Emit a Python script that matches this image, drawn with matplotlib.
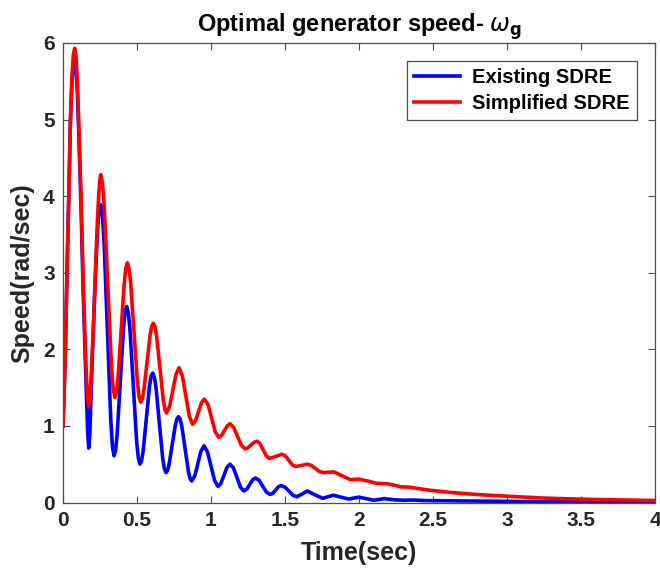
import matplotlib
matplotlib.use("Agg")
import matplotlib.pyplot as plt

# values (time in sec, speed in rad/sec)
t_existing = [0.000, 0.008, 0.016, 0.027, 0.039, 0.050, 0.060, 0.070, 0.079, 0.088,
              0.097, 0.106, 0.122, 0.135, 0.151, 0.160, 0.167, 0.174, 0.181, 0.189,
              0.199, 0.219, 0.233, 0.241, 0.248, 0.255, 0.266, 0.2775, 0.300, 0.3225,
              0.334, 0.345, 0.3556, 0.366, 0.3875, 0.409, 0.4194, 0.430, 0.441, 0.4525,
              0.475, 0.4975, 0.509, 0.520, 0.531, 0.5415, 0.563, 0.5845, 0.595, 0.606,
              0.617, 0.6285, 0.651, 0.6735, 0.685, 0.696, 0.7065, 0.717, 0.738, 0.759,
              0.7695, 0.780, 0.791, 0.8025, 0.825, 0.8475, 0.859, 0.870, 0.891, 0.9115,
              0.932, 0.953, 0.9765, 1.000, 1.0235, 1.047, 1.067, 1.0875, 1.108, 1.128,
              1.152, 1.1755, 1.199, 1.223, 1.242, 1.2615, 1.281, 1.300, 1.325, 1.350,
              1.375, 1.400, 1.418, 1.4365, 1.455, 1.473, 1.500, 1.5265, 1.553, 1.580,
              1.615, 1.650, 1.7025, 1.755, 1.790, 1.826, 1.878, 1.930, 1.965, 2.000,
              2.050, 2.100, 2.135, 2.170, 2.240, 2.300, 2.370, 2.450, 2.600, 3.000,
              3.500, 4.000]
y_existing = [1.00, 1.45, 2.00, 3.00, 4.00, 4.95, 5.45, 5.73, 5.80, 5.70,
              5.35, 4.85, 3.85, 2.85, 1.85, 1.30, 0.90, 0.71, 0.88, 1.35,
              1.95, 2.95, 3.55, 3.75, 3.86, 3.89, 3.77, 3.41, 2.25, 1.09,
              0.73, 0.61, 0.68, 0.895, 1.585, 2.275, 2.49, 2.56, 2.48, 2.26,
              1.53, 0.80, 0.58, 0.50, 0.545, 0.67, 1.095, 1.52, 1.645, 1.69,
              1.64, 1.50, 1.04, 0.58, 0.44, 0.39, 0.42, 0.50, 0.755, 1.01,
              1.09, 1.12, 1.09, 1.00, 0.70, 0.40, 0.31, 0.28, 0.35, 0.51,
              0.67, 0.74, 0.66, 0.475, 0.29, 0.21, 0.25, 0.355, 0.46, 0.50,
              0.45, 0.325, 0.20, 0.15, 0.175, 0.235, 0.295, 0.32, 0.29, 0.21,
              0.135, 0.105, 0.12, 0.16, 0.205, 0.22, 0.20, 0.15, 0.095, 0.075,
              0.11, 0.15, 0.10, 0.055, 0.075, 0.095, 0.07, 0.045, 0.058, 0.07,
              0.05, 0.03, 0.04, 0.05, 0.035, 0.03, 0.032, 0.025, 0.022, 0.015,
              0.010, 0.008]

t_simplified = [0.000, 0.008, 0.016, 0.027, 0.039, 0.050, 0.060, 0.070, 0.079, 0.088,
                0.097, 0.106, 0.122, 0.135, 0.151, 0.160, 0.167, 0.174, 0.181, 0.189,
                0.199, 0.219, 0.233, 0.241, 0.248, 0.255, 0.267, 0.279, 0.303, 0.327,
                0.339, 0.351, 0.3615, 0.372, 0.393, 0.414, 0.4245, 0.435, 0.446, 0.4575,
                0.480, 0.5025, 0.514, 0.525, 0.536, 0.546, 0.5675, 0.589, 0.599, 0.610,
                0.621, 0.6325, 0.655, 0.6775, 0.689, 0.700, 0.721, 0.742, 0.763, 0.784,
                0.807, 0.830, 0.853, 0.876, 0.896, 0.9155, 0.935, 0.955, 0.980, 1.0045,
                1.029, 1.054, 1.0725, 1.091, 1.110, 1.128, 1.1535, 1.179, 1.2045, 1.230,
                1.250, 1.270, 1.290, 1.310, 1.331, 1.352, 1.373, 1.394, 1.436, 1.478,
                1.502, 1.526, 1.550, 1.574, 1.612, 1.650, 1.677, 1.705, 1.732, 1.760,
                1.795, 1.830, 1.885, 1.940, 2.000, 2.060, 2.120, 2.190, 2.240, 2.280,
                2.345, 2.410, 2.480, 2.600, 2.700, 2.850, 3.000, 3.270, 3.580, 4.000]
y_simplified = [1.00, 1.45, 2.00, 3.00, 4.00, 5.00, 5.55, 5.85, 5.93, 5.83,
                5.50, 5.00, 4.00, 3.00, 2.00, 1.58, 1.35, 1.26, 1.33, 1.60,
                2.00, 3.00, 3.70, 4.00, 4.20, 4.28, 4.17, 3.86, 2.83, 1.79,
                1.48, 1.37, 1.44, 1.63, 2.25, 2.87, 3.06, 3.13, 3.06, 2.86,
                2.22, 1.58, 1.38, 1.31, 1.35, 1.46, 1.825, 2.19, 2.30, 2.34,
                2.30, 2.17, 1.755, 1.34, 1.21, 1.17, 1.26, 1.465, 1.67, 1.76,
                1.65, 1.39, 1.13, 1.02, 1.07, 1.185, 1.30, 1.35, 1.28, 1.10,
                0.92, 0.85, 0.88, 0.94, 1.00, 1.03, 0.98, 0.865, 0.75, 0.70,
                0.715, 0.75, 0.785, 0.80, 0.77, 0.69, 0.61, 0.575, 0.60, 0.63,
                0.61, 0.55, 0.49, 0.47, 0.485, 0.50, 0.485, 0.445, 0.405, 0.39,
                0.395, 0.40, 0.35, 0.30, 0.305, 0.28, 0.25, 0.245, 0.225, 0.205,
                0.20, 0.18, 0.16, 0.135, 0.118, 0.098, 0.082, 0.056, 0.04, 0.026]

x_ticks = [0, 0.5, 1, 1.5, 2, 2.5, 3, 3.5, 4]
y_ticks = [0, 1, 2, 3, 4, 5, 6]

plt.rcParams['font.family'] = ['Liberation Sans', 'DejaVu Sans']
plt.rcParams['mathtext.fontset'] = 'dejavusans'

fig = plt.figure(figsize=(6.6, 5.71), dpi=100)
ax = fig.add_axes([63 / 660, 68.5 / 571, 592 / 660, 459.5 / 571])

ax.plot(t_existing, y_existing, color=(0, 0, 1), lw=2.6, label='Existing SDRE')
ax.plot(t_simplified, y_simplified, color=(1, 0, 0), lw=2.6, label='Simplified SDRE')

ax.set_xlim(0, 4)
ax.set_ylim(0, 6)
ax.set_xticks(x_ticks)
ax.set_xticklabels(['0', '0.5', '1', '1.5', '2', '2.5', '3', '3.5', '4'])
ax.set_yticks(y_ticks)
ax.tick_params(direction='in', top=True, right=True, length=5, width=0.8,
               color='0.3', labelsize=15, pad=6)
for lab in ax.get_xticklabels() + ax.get_yticklabels():
    lab.set_fontweight('bold')
    lab.set_color('0.15')
for sp in ax.spines.values():
    sp.set_color('0.3')
    sp.set_linewidth(0.9)

ax.set_xlabel('Time(sec)', fontsize=18, fontweight='bold', color='0.15', labelpad=8)
ax.set_ylabel('Speed(rad/sec)', fontsize=18, fontweight='bold', color='0.15', labelpad=6)
ax.set_title(r'Optimal generator speed- $\omega_\mathbf{g}$', fontsize=17,
             fontweight='bold', pad=8)

leg = ax.legend(loc='upper right', bbox_to_anchor=(637 / 660, 1 - 61 / 571),
                bbox_transform=fig.transFigure, borderaxespad=0, fancybox=False,
                framealpha=1, edgecolor='0.3', prop={'weight': 'bold', 'size': 14.5},
                handlelength=2.3, handletextpad=0.6, labelspacing=0.35,
                borderpad=0.35)
leg.get_frame().set_linewidth(0.9)

fig.savefig('out.png', dpi=100)
